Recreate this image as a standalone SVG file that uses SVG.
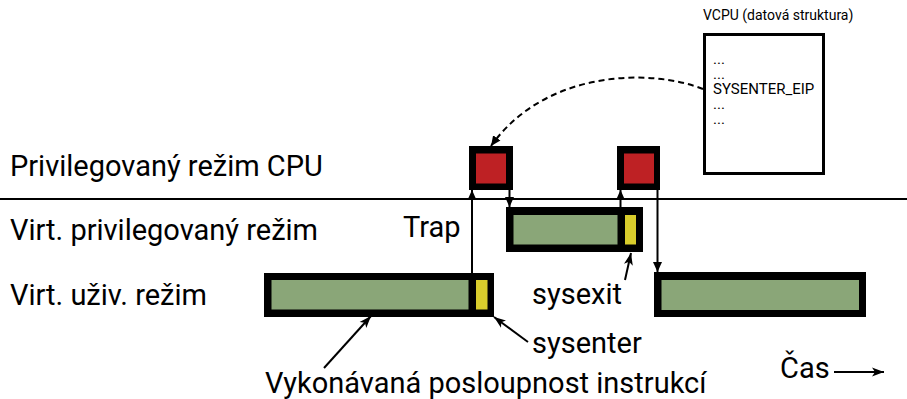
<svg xmlns="http://www.w3.org/2000/svg" width="907" height="399" viewBox="0 0 907 399">
<defs>
<marker id="ah" viewBox="0 0 10 10" refX="10" refY="5" markerWidth="10" markerHeight="10" markerUnits="userSpaceOnUse" orient="auto">
<path d="M0,0.5 L10,5 L0,9.5 Z" fill="#000"/>
</marker>
<marker id="ah2" viewBox="0 0 12 10" refX="12" refY="5" markerWidth="12" markerHeight="10" markerUnits="userSpaceOnUse" orient="auto">
<path d="M0,0.5 L12,5 L0,9.5 L3,5 Z" fill="#000"/>
</marker>
<style>
text{font-family:Roboto,"Liberation Sans",sans-serif;fill:#000}
.lab{font-size:29px}
.sm{font-size:14px}
.in{font-size:15px}
.frame{fill:#000}
.green{fill:#8aa678}
.yellow{fill:#d9cd2c}
.red{fill:#be2124}
.ln{stroke:#000;stroke-width:2;fill:none}
</style>
</defs>
<line x1="0" y1="199" x2="907" y2="199" stroke="#000" stroke-width="2"/>
<g id="labels">
<text class="lab" x="10" y="176">Privilegovaný režim CPU</text>
<text class="lab" x="10" y="240">Virt. privilegovaný režim</text>
<text class="lab" x="10" y="305">Virt. uživ. režim</text>
<text class="lab" x="403" y="237">Trap</text>
<text class="lab" x="532" y="304">sysexit</text>
<text class="lab" x="532" y="353">sysenter</text>
<text class="lab" x="265" y="393">Vykonávaná posloupnost instrukcí</text>
<text class="lab" x="780" y="378">Čas</text>
</g>
<g id="vcpu">
<text class="sm" x="703" y="20">VCPU (datová struktura)</text>
<rect x="704.5" y="34.5" width="119" height="139" fill="#fff" stroke="#000" stroke-width="3"/>
<text class="in" x="713" y="64">...</text>
<text class="in" x="713" y="79">...</text>
<text class="in" x="713" y="94">SYSENTER_EIP</text>
<text class="in" x="713" y="109">...</text>
<text class="in" x="713" y="124">...</text>
</g>
<g id="user-bar-1">
<rect class="frame" x="264" y="273" width="230" height="44"/>
<rect class="green" x="271.5" y="280" width="197" height="29.5"/>
<rect class="yellow" x="476" y="280" width="11.5" height="29.5"/>
</g>
<g id="priv-bar">
<rect class="frame" x="506" y="207" width="137" height="45"/>
<rect class="green" x="513.5" y="215" width="104" height="29.5"/>
<rect class="yellow" x="625" y="215" width="11" height="29.5"/>
</g>
<g id="user-bar-2">
<rect class="frame" x="654" y="272" width="212" height="45"/>
<rect class="green" x="661.5" y="280" width="197.5" height="30"/>
</g>
<g id="cpu-box-1">
<rect class="frame" x="469" y="146" width="44" height="44"/>
<rect class="red" x="476" y="153.5" width="30" height="30"/>
</g>
<g id="cpu-box-2">
<rect class="frame" x="617" y="146" width="43" height="44"/>
<rect class="red" x="624" y="153.5" width="30" height="30"/>
</g>
<g id="connectors">
<line class="ln" x1="472" y1="273" x2="472" y2="190" marker-end="url(#ah)"/>
<line class="ln" x1="509.5" y1="190" x2="509.5" y2="207" marker-end="url(#ah)"/>
<line class="ln" x1="620.5" y1="207" x2="620.5" y2="190" marker-end="url(#ah)"/>
<line class="ln" x1="657.5" y1="190" x2="657.5" y2="272" marker-end="url(#ah)"/>
<path class="ln" d="M703,89 C650,68 545,70 491,146" stroke-dasharray="6,4" marker-end="url(#ah)"/>
<line class="ln" x1="324" y1="368" x2="371" y2="316" marker-end="url(#ah2)"/>
<line class="ln" x1="528" y1="342" x2="494" y2="317" marker-end="url(#ah2)"/>
<line class="ln" x1="625" y1="280" x2="631" y2="253" marker-end="url(#ah2)"/>
<line class="ln" x1="834" y1="372" x2="884" y2="372" marker-end="url(#ah2)"/>
</g>
</svg>
